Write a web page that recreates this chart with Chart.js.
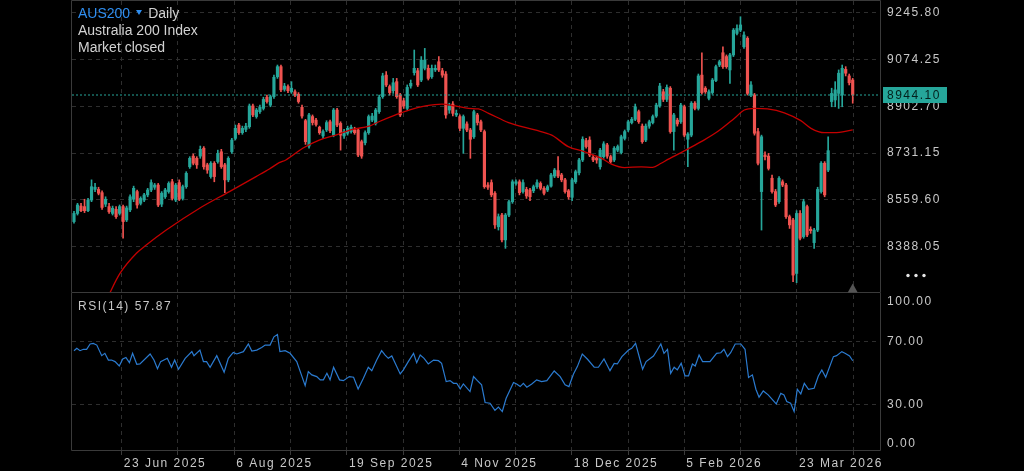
<!DOCTYPE html>
<html lang="en">
<head>
<meta charset="UTF-8">
<title>AUS200 Daily</title>
<script src="https://cdn.jsdelivr.net/npm/chart.js@4.4.1/dist/chart.umd.min.js"></script>
<style>
  html, body { margin: 0; padding: 0; background: #000; }
  #wrap { position: relative; width: 1024px; height: 471px; overflow: hidden; background: #000;
          font-family: 'Liberation Sans', Arial, sans-serif; }
  #main { position: absolute; left: 0; top: 0; }
  #rsi { position: absolute; left: 0; top: 293px; }
  .hdr { position: absolute; left: 78px; top: 5px; font-size: 14px; line-height: 17px; color: #d2d2d2; }
  .sym { color: #2f8ef0; }
  .caret { display: inline-block; width: 0; height: 0; margin: 0 6px 0 6px; position: relative; top: -3px;
           border-left: 3px solid transparent; border-right: 3px solid transparent; border-top: 5px solid #2f8ef0; }
  .rsi-hdr { position: absolute; left: 78px; top: 299px; font-size: 12px; line-height: 14px;
             letter-spacing: 1.5px; color: #c8c8c8; }
</style>
</head>
<body>
<div id="wrap">
  <canvas id="main" width="1024" height="293"></canvas>
  <canvas id="rsi" width="1024" height="178"></canvas>
  <div class="hdr">
    <div><span class="sym">AUS200</span><span class="caret"></span>Daily</div>
    <div>Australia 200 Index</div>
    <div>Market closed</div>
  </div>
  <div class="rsi-hdr" id="rsiHdr"></div>
</div>
<script>
// daily candles, index 0 = first visible bar
const opens = [8480,8510,8537,8535,8520,8559,8598,8598,8586,8544,8535,8510,8525,8510,8535,8486,8523,8562,8590,8547,
  8559,8578,8596,8606,8614,8544,8571,8590,8626,8559,8623,8565,8608,8681,8720,8712,8720,8749,8688,8645,
  8694,8700,8736,8688,8633,8736,8785,8834,8806,8818,8828,8904,8865,8883,8895,8936,8907,8938,9011,9048,
  8965,8975,8956,8956,8947,8899,8850,8757,8865,8852,8826,8794,8816,8846,8797,8889,8840,8794,8804,8810,
  8816,8816,8773,8769,8806,8852,8840,8883,8938,9017,8975,8960,8993,8944,8923,8895,8977,9026,9033,8999,
  9042,9042,9011,9036,9066,9033,9021,8889,8911,8871,8865,8822,8838,8816,8791,8871,8846,8810,8614,8623,
  8584,8461,8504,8413,8504,8553,8620,8626,8590,8598,8596,8593,8608,8620,8602,8596,8610,8647,8667,8651,
  8633,8593,8569,8626,8659,8706,8777,8779,8716,8713,8681,8718,8761,8718,8706,8742,8733,8785,8816,8843,
  8855,8883,8830,8779,8830,8843,8867,8904,8956,8928,8969,8810,8852,8846,8901,8782,8797,8914,8895,9017,
  8969,8932,8953,8997,9054,9099,9085,9036,9091,9170,9182,9121,9152,8944,8944,8810,8590,8724,8720,8639,
  8590,8553,8626,8614,8498,8486,8290,8510,8425,8535,8452,8403,8449,8590,8694,8669,8920,8926,8950,8944,
  9038,9014,8999];
const highs = [8518,8547,8547,8562,8565,8633,8620,8606,8593,8571,8547,8537,8535,8541,8541,8537,8578,8610,8596,8571,
  8584,8602,8633,8620,8620,8590,8602,8626,8635,8620,8633,8614,8663,8718,8728,8718,8757,8755,8694,8700,
  8700,8742,8745,8694,8718,8785,8834,8840,8830,8840,8911,8911,8895,8907,8936,8944,8944,9017,9054,9054,
  8987,8981,8993,8963,8953,8907,8855,8877,8871,8859,8830,8816,8850,8852,8895,8895,8846,8818,8830,8834,
  8826,8822,8779,8813,8871,8877,8895,8944,9024,9030,8981,9005,9005,8950,8932,8981,8999,9109,9042,9085,
  9115,9054,9054,9054,9085,9042,9030,8914,8920,8889,8871,8871,8846,8822,8889,8877,8852,8816,8623,8633,
  8590,8508,8510,8510,8559,8633,8633,8633,8633,8606,8602,8614,8633,8626,8608,8614,8657,8675,8718,8657,
  8639,8598,8639,8669,8712,8791,8785,8791,8724,8720,8749,8773,8767,8724,8755,8761,8797,8816,8852,8862,
  8911,8889,8838,8838,8852,8871,8914,8987,8965,8981,8975,8877,8859,8914,8907,8806,8920,8920,9021,9099,
  8975,8963,9005,9054,9072,9121,9091,9097,9188,9201,9231,9176,9158,8993,8950,8822,8797,8736,8730,8651,
  8598,8645,8633,8620,8504,8492,8520,8520,8562,8541,8461,8455,8606,8700,8700,8791,8969,8993,9036,9054,
  9048,9021,9005];
const lows = [8474,8504,8516,8513,8516,8553,8590,8578,8525,8535,8510,8504,8492,8504,8419,8480,8516,8553,8529,8541,
  8553,8571,8590,8598,8535,8535,8565,8584,8559,8553,8557,8559,8602,8675,8688,8675,8712,8672,8657,8639,
  8626,8694,8675,8586,8626,8730,8779,8800,8800,8810,8822,8865,8859,8877,8889,8914,8901,8932,9005,8956,
  8958,8953,8950,8938,8914,8859,8763,8749,8834,8830,8800,8785,8810,8806,8791,8828,8742,8785,8797,8804,
  8800,8718,8712,8761,8800,8846,8834,8877,8932,8975,8944,8950,8932,8865,8895,8889,8969,9017,8975,8993,
  9036,8999,9005,9030,9030,9009,8859,8877,8867,8865,8813,8730,8810,8712,8785,8834,8810,8602,8598,8571,
  8455,8449,8406,8382,8498,8547,8614,8578,8584,8565,8557,8586,8602,8596,8578,8590,8606,8641,8641,8626,
  8584,8562,8557,8620,8651,8700,8749,8718,8700,8694,8672,8712,8712,8694,8700,8736,8728,8779,8810,8838,
  8850,8840,8767,8773,8822,8838,8862,8899,8920,8920,8804,8742,8830,8840,8791,8681,8791,8889,8889,8947,
  8950,8926,8947,8993,9048,9042,9042,8987,9085,9164,9176,9115,8944,8938,8797,8688,8449,8706,8669,8584,
  8535,8547,8608,8492,8455,8260,8256,8413,8419,8425,8437,8382,8443,8584,8571,8663,8901,8901,8895,8901,
  9014,8981,8914];
const closes = [8510,8541,8520,8520,8559,8608,8606,8584,8532,8562,8516,8529,8498,8535,8480,8530,8571,8602,8541,8565,
  8578,8596,8623,8614,8541,8584,8596,8620,8565,8614,8562,8608,8657,8712,8694,8688,8745,8681,8669,8694,
  8645,8730,8681,8633,8712,8779,8822,8806,8822,8830,8904,8871,8889,8899,8928,8920,8938,9009,9048,8963,
  8977,8960,8969,8944,8920,8867,8773,8871,8843,8836,8806,8810,8843,8813,8889,8834,8797,8810,8822,8826,
  8806,8724,8720,8806,8865,8867,8889,8936,9014,8981,8953,8989,8938,8871,8904,8972,8987,9042,8981,9072,
  9072,9005,9042,9042,9036,9017,8871,8904,8877,8877,8822,8865,8816,8782,8883,8843,8816,8608,8606,8578,
  8468,8498,8413,8504,8553,8626,8626,8586,8623,8574,8571,8608,8623,8602,8584,8608,8651,8669,8647,8633,
  8590,8571,8633,8663,8706,8782,8755,8724,8706,8706,8742,8765,8720,8700,8749,8755,8791,8810,8846,8855,
  8901,8846,8773,8830,8846,8865,8907,8977,8928,8972,8810,8871,8838,8907,8797,8801,8914,8895,9014,8953,
  8956,8956,8999,9048,9066,9048,9048,9091,9182,9188,9201,9164,8950,8981,8804,8694,8791,8718,8675,8590,
  8541,8639,8614,8498,8468,8284,8510,8419,8553,8431,8447,8449,8598,8694,8578,8740,8950,8963,9024,9042,
  9024,8989,8944.10];

// red moving average, read at sample positions (bar index, price)
const maIdx = [9.5,13.1,17.8,20.6,26.3,35.8,44.3,51.9,55.7,58.5,60.4,65.2,69.9,74.6,79.4,84.1,86.9,91.7,95.5,100.2,
  104.9,108.7,112.5,115.3,118.2,123.9,131.4,136.2,140.9,145.6,150.4,153.2,157.0,161.7,165.0,167.4,169.3,174.1,178.8,183.5,
  188.3,191.1,194.0,197.7,202.5,207.2,210.1,213.9,216.7,222];
const maVal = [8200,8290,8364,8394,8449,8529,8590,8645,8673,8696,8706,8749,8779,8797,8818,8830,8846,8871,8889,8904,
  8911,8904,8895,8893,8877,8843,8816,8797,8755,8736,8712,8691,8678,8681,8679,8694,8708,8740,8773,8810,
  8859,8889,8895,8893,8879,8850,8822,8806,8806,8816];

// RSI(14)
const rsiIdx = [0,0.8,1.7,2.7,3.6,4.6,5.5,6.5,7.9,8.8,9.8,10.7,11.7,12.9,13.9,14.8,15.8,16.7,17.9,18.8,
  21.7,22.8,23.8,24.7,26.6,27.8,28.7,29.8,31.7,33.6,34.2,35.9,36.9,37.8,38.8,40.7,42.8,44.0,45.4,46.4,
  48.3,49.7,50.7,52.1,53.5,54.5,55.9,57.0,58.0,58.7,60.2,61.6,63.5,65.9,66.8,67.8,69.2,70.2,71.1,72.1,
  73.0,74.0,75.7,76.8,78.5,79.7,81.0,82.5,83.9,84.9,86.3,87.7,88.7,89.6,90.6,93.0,93.9,95.3,96.8,97.7,
  98.7,99.8,101.0,102.5,103.9,104.8,106.1,107.2,108.2,109.1,110.1,111.0,112.9,113.9,115.0,116.2,117.2,118.6,120.0,121.0,
  122.1,123.2,124.1,125.3,126.2,127.2,128.1,129.1,130.5,131.9,133.3,134.8,136.9,138.6,140.0,141.1,142.4,143.5,144.9,146.4,
  148.3,149.5,151.1,152.8,154.0,154.9,156.2,158.1,159.0,160.1,162.1,163.1,165.2,166.1,167.3,168.2,169.2,170.1,171.1,172.0,
  173.1,174.2,175.2,176.3,177.1,178.2,179.2,181.3,183.2,184.4,185.3,186.3,187.2,188.5,190.1,191.3,192.3,193.4,194.4,195.3,
  196.5,197.9,200.2,201.5,202.4,203.2,204.3,205.3,206.2,207.2,208.2,209.4,211.0,212.2,213.2,214.3,216.5,217.4,218.9,219.8,
  221.1,222];
const rsiVal = [64.3,65.8,64.3,65.2,65.2,68.6,69.0,67.9,61.1,62.6,58.3,58.3,57.3,54.5,59.0,60.0,56.6,62.6,55.6,55.8,
  62.2,58.3,52.8,57.3,59.4,53.7,58.3,52.4,59.4,63.7,61.1,64.7,57.3,57.3,53.7,61.1,50.5,59.4,63.2,62.2,
  63.7,68.6,64.1,64.7,66.4,67.9,67.9,73.2,74.7,63.7,64.3,62.6,57.3,41.9,50.9,48.8,47.7,45.6,45.6,49.8,
  45.6,53.7,45.6,45.1,47.7,47.3,39.8,46.6,53.7,51.5,58.3,64.3,61.5,59.4,60.9,49.4,52.0,57.3,62.6,56.6,
  61.5,59.4,55.8,58.3,57.9,56.2,44.5,45.1,43.4,43.4,39.8,43.0,38.1,47.7,45.1,42.4,31.1,30.6,26.0,28.1,
  25.3,33.8,38.1,43.9,43.0,41.3,43.4,40.9,43.0,45.6,44.5,45.1,51.3,47.7,42.4,41.3,49.4,54.1,62.2,58.8,
  53.7,53.7,59.0,51.5,56.2,55.8,60.5,64.7,65.8,69.0,52.4,57.3,60.9,64.1,68.6,62.6,65.2,49.8,53.7,52.0,
  56.2,48.1,48.1,55.8,54.5,61.5,57.3,57.3,62.6,63.0,65.2,60.5,63.0,68.6,68.6,65.2,47.1,48.8,39.6,34.5,
  38.5,36.0,30.2,37.0,36.0,31.7,30.6,25.3,39.6,36.6,43.4,39.6,40.2,48.1,52.0,47.3,60.5,61.1,63.7,62.6,
  60.9,57.87];

// axes
const priceTicks = [9245.80, 9074.25, 8902.70, 8731.15, 8559.60, 8388.05];
const gridTicks = [13.6,29.6,45.7,61.7,77.8,93.8,109.8,125.9,141.9,158.0,174.0,190.0,206.1,222.1];
const xTickLabels = ['23 Jun 2025','','6 Aug 2025','','19 Sep 2025','','4 Nov 2025','','18 Dec 2025','','5 Feb 2026','','23 Mar 2026',''];
const rsiTicks = [100, 70, 30, 0];
const rsiLines = [70, 30];

const X_MIN = -0.57, X_MAX = 229.78;
const PRICE_MIN = 8218.3, PRICE_MAX = 9288.7;
const RSI_LABEL_INSET = 4.5;   // 100/0 labels sit inside the pane

const TEAL = '#26a69a', RED = '#ef5350';
const GRID = '#2e2e2e', FRAME = '#3a3a3a', TXT = '#c8c8c8';
const FONT = "'Liberation Sans', Arial, sans-serif";

Chart.defaults.font.family = FONT;
Chart.defaults.font.size = 12;
Chart.defaults.color = TXT;

const last = closes.length - 1;
const lastClose = closes[last];
const candleColors = closes.map((c, i) => c >= opens[i] ? TEAL : RED);
const wicks = closes.map((c, i) => ({ x: i, y: [lows[i], highs[i]] }));
const bodies = closes.map((c, i) => ({ x: i, y: [opens[i], c] }));
const maPoints = maIdx.map((x, i) => ({ x: x, y: maVal[i] }));
const rsiPoints = rsiIdx.map((x, i) => ({ x: x, y: rsiVal[i] }));

document.getElementById('rsiHdr').textContent = 'RSI(14) ' + rsiVal[rsiVal.length - 1].toFixed(2);

// keep the layout exactly where the padding says, no label overhang
function noPad(s) { s.paddingTop = 0; s.paddingBottom = 0; s.paddingLeft = 0; s.paddingRight = 0; }

const spacing = {
  id: 'spacing',
  beforeDraw(chart) { chart.ctx.letterSpacing = '1.5px'; }
};

function frame(skipTop) {
  return {
    id: 'frame',
    afterDraw(chart) {
      const { ctx, chartArea: a } = chart;
      ctx.save();
      ctx.strokeStyle = FRAME;
      ctx.lineWidth = 1;
      ctx.beginPath();
      ctx.moveTo(a.left - 0.5, skipTop ? 0 : a.top - 0.5);
      ctx.lineTo(a.left - 0.5, a.bottom - 0.5);
      ctx.lineTo(a.right + 0.5, a.bottom - 0.5);
      ctx.lineTo(a.right + 0.5, skipTop ? 0 : a.top - 0.5);
      if (!skipTop) ctx.closePath();
      ctx.stroke();
      ctx.restore();
    }
  };
}

const priceTag = {
  id: 'priceTag',
  afterDraw(chart) {
    const { ctx, chartArea: a, scales: { x, y } } = chart;
    const py = Math.round(y.getPixelForValue(lastClose));
    ctx.save();
    ctx.fillStyle = TEAL;
    ctx.fillRect(a.right + 3, py - 8, 64, 16);
    ctx.fillStyle = '#03201c';
    ctx.font = '12px ' + FONT;
    ctx.textBaseline = 'middle';
    ctx.fillText(lastClose.toFixed(2), a.right + 7, py + 1);
    // more-menu dots
    ctx.fillStyle = '#e6e6e6';
    [908, 916, 924].forEach(cx => { ctx.beginPath(); ctx.arc(cx, 275.5, 1.7, 0, Math.PI * 2); ctx.fill(); });
    // marker under last bar
    const tx = x.getPixelForValue(last);
    ctx.fillStyle = '#555';
    ctx.beginPath();
    ctx.moveTo(tx, a.bottom - 9.5);
    ctx.lineTo(tx - 5, a.bottom - 0.5);
    ctx.lineTo(tx + 5, a.bottom - 0.5);
    ctx.closePath();
    ctx.fill();
    ctx.restore();
  }
};

new Chart(document.getElementById('main'), {
  type: 'bar',
  data: {
    datasets: [
      { data: wicks, backgroundColor: candleColors, barThickness: 1, grouped: false, order: 3 },
      { data: bodies, backgroundColor: candleColors, barThickness: 2.5, minBarLength: 1, grouped: false, order: 2 },
      { type: 'line', data: maPoints, borderColor: '#c40000', borderWidth: 1.3, pointRadius: 0,
        cubicInterpolationMode: 'monotone', order: 1 },
      { type: 'line', data: [{ x: X_MIN, y: lastClose }, { x: X_MAX, y: lastClose }], borderColor: TEAL,
        borderWidth: 1, borderDash: [2, 2], pointRadius: 0, order: 0 }
    ]
  },
  options: {
    responsive: false, animation: false, devicePixelRatio: 1,
    layout: { padding: { left: 72, top: 1, right: 0, bottom: 0 }, autoPadding: false },
    plugins: { legend: { display: false }, tooltip: { enabled: false } },
    scales: {
      x: {
        type: 'linear', min: X_MIN, max: X_MAX, offset: false,
        grid: { color: GRID, offset: false, drawTicks: false },
        border: { display: false, dash: [4, 4] },
        ticks: { display: false },
        afterBuildTicks: s => { s.ticks = gridTicks.map(v => ({ value: v })); },
        afterFit: s => { s.height = 0; noPad(s); }
      },
      y: {
        position: 'right', min: PRICE_MIN, max: PRICE_MAX,
        grid: { color: GRID, drawTicks: false },
        border: { display: false, dash: [4, 4] },
        ticks: { padding: 7, color: TXT, callback: v => Number(v).toFixed(2) },
        afterBuildTicks: s => { s.ticks = priceTicks.map(v => ({ value: v })); },
        afterFit: s => { s.width = 144; noPad(s); }
      }
    }
  },
  plugins: [spacing, frame(false), priceTag]
});

new Chart(document.getElementById('rsi'), {
  type: 'line',
  data: {
    datasets: [
      { data: rsiPoints, borderColor: '#2b7bd0', borderWidth: 1.2, pointRadius: 0, tension: 0 }
    ]
  },
  options: {
    responsive: false, animation: false, devicePixelRatio: 1,
    layout: { padding: { left: 72, top: 2, right: 0, bottom: 0 }, autoPadding: false },
    plugins: { legend: { display: false }, tooltip: { enabled: false } },
    scales: {
      x: {
        type: 'linear', min: X_MIN, max: X_MAX, offset: false,
        grid: { color: GRID, drawTicks: true, tickLength: 4, tickColor: FRAME },
        border: { display: false, dash: [4, 4] },
        ticks: { autoSkip: false, maxRotation: 0, align: 'start', labelOffset: 2, padding: 1, color: TXT,
                 callback: (v, i) => xTickLabels[i] || '' },
        afterBuildTicks: s => { s.ticks = gridTicks.map(v => ({ value: v })); },
        afterFit: s => { s.height = 20; noPad(s); }
      },
      y: {
        position: 'right', min: 0, max: 100,
        grid: { color: c => (c.tick && rsiLines.includes(c.tick.value)) ? GRID : 'transparent', drawTicks: false },
        border: { display: false, dash: [4, 4] },
        ticks: { padding: 7, color: TXT, callback: (v, i) => rsiTicks[i].toFixed(2) },
        afterBuildTicks: s => {
          s.ticks = rsiTicks.map(v => ({ value: v === 100 ? 100 - RSI_LABEL_INSET : v === 0 ? RSI_LABEL_INSET : v }));
        },
        afterFit: s => { s.width = 144; noPad(s); }
      }
    }
  },
  plugins: [spacing, frame(true)]
});
</script>
</body>
</html>
